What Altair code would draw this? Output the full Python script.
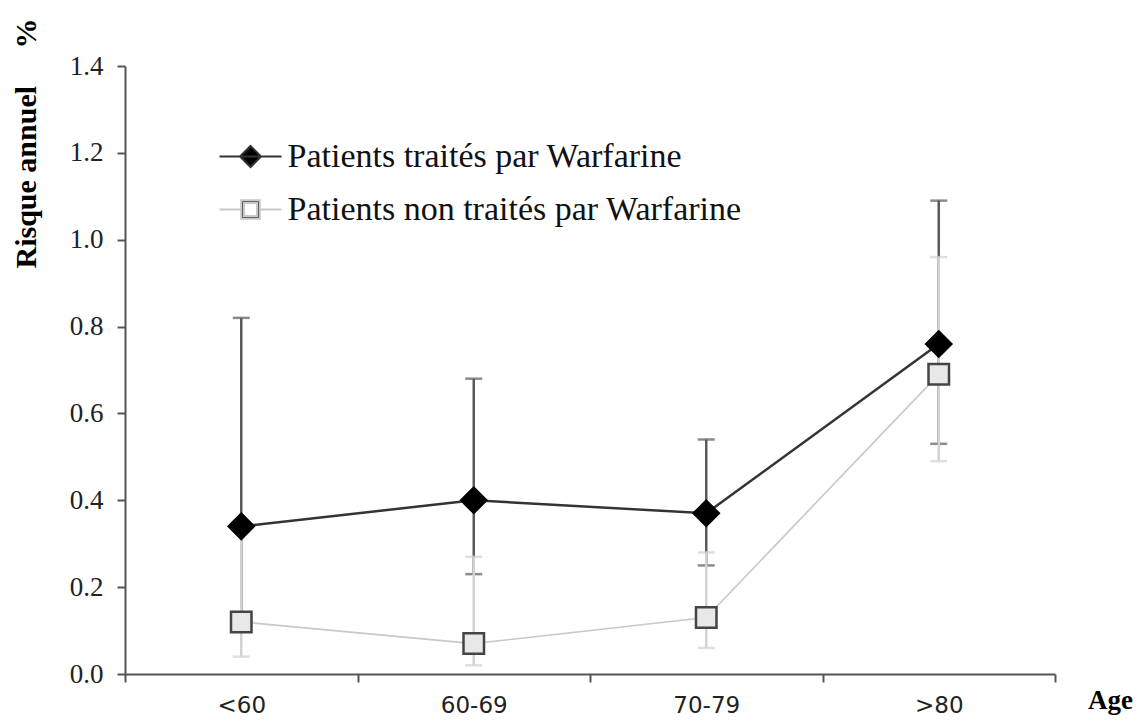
import altair as alt
import pandas as pd

# ---- data ----
categories = ["<60", "60-69", "70-79", ">80"]
series = ["Patients traités par Warfarine", "Patients non traités par Warfarine"]

treated = [0.34, 0.40, 0.37, 0.76]
treated_low = [0.12, 0.23, 0.25, 0.53]
treated_high = [0.82, 0.68, 0.54, 1.09]

untreated = [0.12, 0.07, 0.13, 0.69]
untreated_low = [0.04, 0.02, 0.06, 0.49]
untreated_high = [0.34, 0.27, 0.28, 0.96]

y_ticks = [0.0, 0.2, 0.4, 0.6, 0.8, 1.0, 1.2, 1.4]

pos = [i + 0.5 for i in range(len(categories))]

df_t = pd.DataFrame({"cat": categories, "pos": pos, "v": treated, "lo": treated_low, "hi": treated_high})
df_u = pd.DataFrame({"cat": categories, "pos": pos, "v": untreated, "lo": untreated_low, "hi": untreated_high})

W, H = 930, 608
SERIF = "Liberation Serif"

label_expr = " : ".join(
    [f"datum.value == {p} ? '{c}'" for p, c in zip(pos, categories)]
) + " : ''"

x_enc = alt.X(
    "pos:Q",
    scale=alt.Scale(domain=[0, len(categories)], nice=False, zero=False),
    axis=alt.Axis(
        values=[i * 0.5 for i in range(2 * len(categories) + 1)],
        labelExpr=label_expr,
        tickColor={"condition": {"test": "datum.value % 1 != 0", "value": "transparent"}, "value": "#555555"},
        tickSize=8,
        tickWidth=2,
        domainColor="#555555",
        domainWidth=2,
        grid=False,
        labelFont="DejaVu Sans",
        labelFontSize=23,
        labelColor="#222222",
        labelPadding=12,
        labelBaseline="top",
        title="Age",
        titleFont=SERIF,
        titleFontSize=27,
        titleFontWeight="bold",
        titleColor="#000000",
        titleX=985,
        titleY=26,
        titleAlign="center",
        titleBaseline="middle",
        titleAnchor="start",
    ),
)

y_enc_kw = dict(
    scale=alt.Scale(domain=[0, 1.4], nice=False, zero=True),
)

y_axis = alt.Axis(
    values=y_ticks,
    format=".1f",
    tickSize=8,
    tickWidth=2,
    tickColor="#555555",
    domainColor="#555555",
    domainWidth=2,
    grid=False,
    labelFont=SERIF,
    labelFontSize=27,
    labelColor="#222222",
    labelPadding=14,
    title="Risque annuel\u00a0\u00a0\u00a0\u00a0\u00a0%",
    titleFont=SERIF,
    titleFontSize=30,
    titleFontWeight="bold",
    titleColor="#000000",
    titleAngle=270,
    titleX=-99,
    titleY=77,
    titleAlign="center",
    titleBaseline="middle",
)

# ---- error bars ----
def errbar(df, color, width):
    base = alt.Chart(df)
    rule = base.mark_rule(color=color, strokeWidth=width).encode(
        x=x_enc,
        y=alt.Y("lo:Q", axis=y_axis, **y_enc_kw),
        y2="hi:Q",
    )
    caps = base.transform_fold(["lo", "hi"], as_=["k", "val"]).mark_tick(
        orient="horizontal", size=17, thickness=width, color=color
    ).encode(
        x=x_enc,
        y=alt.Y("val:Q", axis=y_axis, **y_enc_kw),
    )
    return rule + caps

err_t = errbar(df_t, "#5a5a5a", 2.5)
err_u = errbar(df_u, "#d2d2d2", 2.5)

line_u = alt.Chart(df_u).mark_line(color="#c8c8c8", strokeWidth=1.6).encode(
    x=x_enc, y=alt.Y("v:Q", axis=y_axis, **y_enc_kw)
)
line_t = alt.Chart(df_t).mark_line(color="#333333", strokeWidth=2.5).encode(
    x=x_enc, y=alt.Y("v:Q", axis=y_axis, **y_enc_kw)
)

pts_u = alt.Chart(df_u).mark_point(
    shape="square", size=420, filled=True, fill="#e8e8e8", stroke="#444444", strokeWidth=2.5, opacity=1
).encode(x=x_enc, y=alt.Y("v:Q", axis=y_axis, **y_enc_kw))

pts_t = alt.Chart(df_t).mark_point(
    shape="diamond", size=700, filled=True, fill="#000000", stroke="#000000", strokeWidth=1.5, opacity=1
).encode(x=x_enc, y=alt.Y("v:Q", axis=y_axis, **y_enc_kw))

# ---- legend (driven by series scales; no visible marks) ----
path_t = "M-2,0H2M0,-0.68L0.68,0L0,0.68L-0.68,0Z"
path_u = ("M-2,0H-0.6M0.6,0H2"
          "M-0.6,-0.6H0.6V0.6H-0.6Z"
          "M-0.42,-0.42V0.42H0.42V-0.42Z")

leg = alt.Legend(
    title=None,
    orient="none",
    legendX=108.5,
    legendY=73.5,
    padding=0,
    symbolSize=961,
    symbolStrokeWidth=2,
    labelFont=SERIF,
    labelFontSize=34,
    labelColor="#111111",
    labelOffset=20,
    rowPadding=19,
    labelLimit=700,
)

legend_layer = alt.Chart(pd.DataFrame({"series": series})).transform_filter("false").mark_point(
    filled=True, opacity=1
).encode(
    x=x_enc,
    y=alt.Y("pos:Q", axis=y_axis, **y_enc_kw),
    shape=alt.Shape("series:N", scale=alt.Scale(domain=series, range=[path_t, path_u]), legend=leg, sort=series),
    fill=alt.Fill("series:N", scale=alt.Scale(domain=series, range=["#000000", "#444444"]), legend=leg, sort=series),
    stroke=alt.Stroke("series:N", scale=alt.Scale(domain=series, range=["#333333", "#c8c8c8"]), legend=leg, sort=series),
)

chart = alt.layer(
    err_t, err_u, line_u, line_t, pts_u, pts_t, legend_layer
).properties(
    width=W,
    height=H,
    autosize=alt.AutoSizeParams(type="none"),
    padding={"left": 117, "top": 58, "right": 81, "bottom": 44},
    background="white",
).configure_view(stroke=None)

chart.save("out.html", embed_options={"renderer": "svg", "actions": False})
